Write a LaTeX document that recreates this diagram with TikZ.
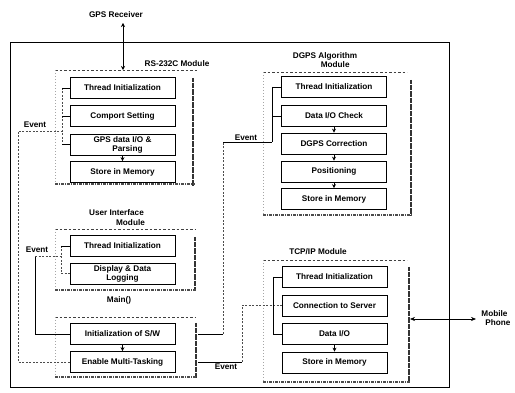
\documentclass[tikz,border=0pt]{standalone}
\usepackage{fontspec}
\setmainfont{Liberation Sans}
\usetikzlibrary{arrows.meta}
\begin{document}
\begin{tikzpicture}[x=1pt,y=-1pt,
  box/.style={draw, line width=0.7pt, minimum width=105pt, minimum height=21pt, inner sep=1pt, align=center, font=\fontsize{8.2}{8.8}\selectfont\bfseries},
  lbl/.style={font=\fontsize{8.2}{9.5}\selectfont\bfseries, inner sep=0pt, align=left},
  framedash/.style={draw=black!75, line width=0.6pt, dash pattern=on 2.5pt off 2pt},
  framefaint/.style={draw=black!35, line width=0.5pt, dash pattern=on 1pt off 2pt},
  shadowR/.style={draw=black!80, line width=2.8pt, dash pattern=on 4pt off 0.6pt on 1.5pt off 0.4pt},
  shadowB/.style={draw=black!70, line width=2pt, dash pattern=on 3pt off 1.2pt on 1pt off 0.8pt},
  conn/.style={draw, line width=0.6pt},
  dconn/.style={draw=black!70, line width=0.6pt, dash pattern=on 2pt off 1.5pt},
  arr/.style={-{Stealth[length=4pt,width=4pt]}, line width=0.6pt},
]
\useasboundingbox (0,0) rectangle (515,393);

% outer box
\draw[line width=0.7pt] (10,42) rectangle (449,387);

% ---------- RS-232C module ----------
\draw[framedash] (55,70) -- (197,70);
\draw[framefaint] (55,70) -- (55,184);
\draw[shadowR] (193,78) -- (193,186);
\draw[shadowB] (55,184) -- (195,184);
\node[lbl] (rstitle) at (177,64) {RS-232C Module};
\node[box] (rsthread) at (122.5,88) {Thread Initialization};
\node[box] (rscom) at (122.5,116) {Comport Setting};
\node[box] (rsgps) at (122.5,144.5) {GPS data I/O \&\\\hspace*{10pt}Parsing};
\node[box] (rsstore) at (122.5,172) {Store in Memory};
\draw[arr] (rsgps.south) -- (rsstore.north);

% GPS receiver
\node[lbl] (gps) at (116,15) {GPS Receiver};
\coordinate (gpsa) at (123,23);
\draw[{Stealth[length=4pt,width=4pt]}-{Stealth[length=4pt,width=4pt]}, line width=0.6pt] (gpsa) -- (123,70);

% ---------- User Interface module ----------
\node[lbl] (uititle) at (117,217.5) {User Interface\\\hspace*{27pt}Module};
\draw[framedash] (55,229) -- (195,229);
\draw[framefaint] (55,229) -- (55,290);
\draw[shadowR] (195,237) -- (195,291);
\draw[shadowB] (55,290) -- (196,290);
\node[box] (uithread) at (122.5,246) {Thread Initialization};
\node[box] (uidisp) at (122.5,273.5) {Display \& Data\\Logging};

% ---------- Main ----------
\node[lbl] (maintitle) at (119,300) {Main()};
\draw[framedash] (55,317) -- (195,317);
\draw[framefaint] (55,317) -- (55,377);
\draw[shadowR] (196,323) -- (196,378);
\draw[shadowB] (55,377) -- (197,377);
\node[box] (init) at (122.5,334) {Initialization of S/W};
\node[box] (enable) at (122.5,362) {Enable Multi-Tasking};
\draw[arr] (init.south) -- (enable.north);
\coordinate (mainR) at (198,0);

% ---------- DGPS module ----------
\node[lbl] (dgtitle) at (325,60) {DGPS Algorithm\\\hspace*{28pt}Module};
\draw[framedash] (263,72) -- (407,72);
\draw[framefaint] (263,72) -- (263,215);
\draw[shadowR] (411,80) -- (411,216);
\draw[shadowB] (263,215) -- (412,215);
\node[box] (dgthread) at (334,87) {Thread Initialization};
\node[box] (dgio) at (334,116) {Data I/O Check};
\node[box] (dgcorr) at (334,143.5) {DGPS Correction};
\node[box] (dgpos) at (334,171.5) {Positioning};
\node[box] (dgstore) at (334,199) {Store in Memory};
\draw[arr] (dgio.south) -- (dgcorr.north);
\draw[arr] (dgcorr.south) -- (dgpos.north);
\draw[arr] (dgpos.south) -- (dgstore.north);

% ---------- TCP/IP module ----------
\node[lbl] (tcptitle) at (318,252) {TCP/IP Module};
\draw[framedash] (263,260) -- (407,260);
\draw[framefaint] (263,260) -- (263,382);
\draw[shadowR] (409,267) -- (409,383);
\draw[shadowB] (263,382) -- (410,382);
\node[box] (tcpthread) at (334.5,277) {Thread Initialization};
\node[box] (tcpconn) at (334.5,305.5) {Connection to Server};
\node[box] (tcpdata) at (334.5,334) {Data I/O};
\node[box] (tcpstore) at (334.5,362.5) {Store in Memory};
\draw[arr] (tcpdata.south) -- (tcpstore.north);

% ---------- Event connectors ----------
% RS-232C
\coordinate (rsbus) at (62,131);
\coordinate (ev1x) at (18,0);
\draw[dconn] (enable.west) -- (enable.west -| ev1x) -- (ev1x |- rsbus) -- (rsbus);
\draw[dconn] (rsthread.west -| rsbus) -- (rsgps.west -| rsbus);
\draw[conn] (rsthread.west -| rsbus) -- (rsthread.west);
\draw[conn] (rscom.west -| rsbus) -- (rscom.west);
\draw[conn] (rsgps.west -| rsbus) -- (rsgps.west);
\node[lbl] (ev1) at (35,125) {Event};

% User interface
\coordinate (uibus) at (61,256);
\coordinate (ev2x) at (35,0);
\draw[conn] (init.west) -- (init.west -| ev2x) -- (ev2x |- uibus);
\draw[dconn] (ev2x |- uibus) -- (uibus);
\draw[dconn] (uithread.west -| uibus) -- (uidisp.west -| uibus);
\draw[conn] (uithread.west -| uibus) -- (uithread.west);
\draw[dconn] (uidisp.west -| uibus) -- (uidisp.west);
\node[lbl] (ev2) at (37,250) {Event};

% DGPS
\coordinate (dgbus) at (272,142);
\coordinate (ev3x) at (223,0);
\draw[conn] (init.east -| mainR) -- (init.east -| ev3x);
\draw[dconn] (init.east -| ev3x) -- (ev3x |- dgbus);
\draw[conn] (ev3x |- dgbus) -- (dgbus);
\draw[conn] (dgthread.west -| dgbus) -- (dgbus);
\draw[conn] (dgthread.west -| dgbus) -- (dgthread.west);
\draw[conn] (dgio.west -| dgbus) -- (dgio.west);
\node[lbl] (ev3) at (246,138) {Event};

% TCP/IP
\coordinate (tcpbus) at (273,0);
\coordinate (ev4x) at (242,0);
\draw[conn] (enable.east -| mainR) -- (enable.east -| ev4x);
\draw[dconn] (enable.east -| ev4x) -- (ev4x |- tcpconn.west) -- (tcpconn.west);
\draw[conn] (tcpthread.west -| tcpbus) -- (tcpdata.west -| tcpbus);
\draw[conn] (tcpthread.west -| tcpbus) -- (tcpthread.west);
\draw[conn] (tcpdata.west -| tcpbus) -- (tcpdata.west);
\node[lbl] (ev4) at (226,367) {Event};

% Mobile phone
\coordinate (tcpout) at (410,319);
\coordinate (mob) at (476,319);
\draw[{Stealth[length=5pt,width=4pt]}-{Stealth[length=5pt,width=4pt]}, line width=0.6pt] (tcpout) -- (mob);
\node[lbl] (mobile) at (496,318) {Mobile\\\hspace*{4pt}Phone};
\end{tikzpicture}
\end{document}
